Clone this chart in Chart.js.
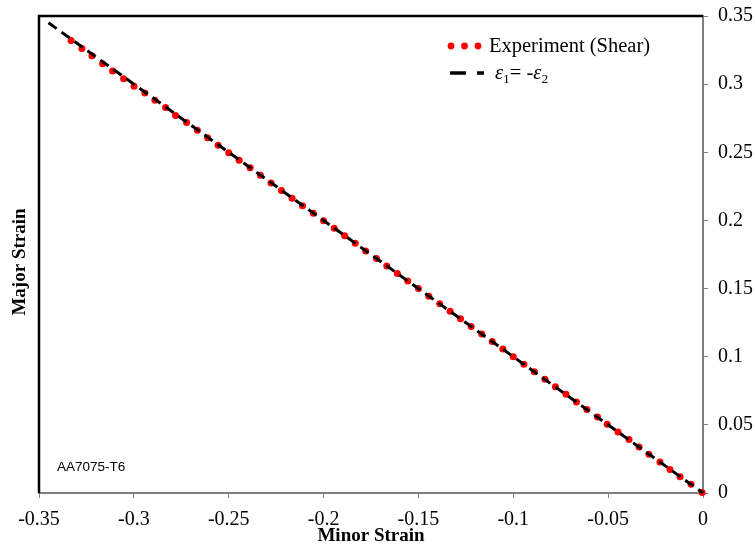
<!DOCTYPE html>
<html>
<head>
<meta charset="utf-8">
<script src="https://cdn.jsdelivr.net/npm/chart.js@4.4.1/dist/chart.umd.min.js"></script>
<style>
  html, body { margin: 0; padding: 0; background: #fff; }
  canvas { display: block; }
</style>
</head>
<body>
<canvas id="strainChart" width="755" height="559"></canvas>
<script>
const minorStrain = [
  -0.3331, -0.3274, -0.3221, -0.3165, -0.3112, -0.3054, -0.2999, -0.2942, -0.2889, -0.2833,
  -0.2780, -0.2722, -0.2665, -0.2611, -0.2556, -0.2500, -0.2445, -0.2387, -0.2333, -0.2277,
  -0.2222, -0.2166, -0.2111, -0.2054, -0.2000, -0.1944, -0.1889, -0.1833, -0.1778, -0.1721,
  -0.1667, -0.1611, -0.1556, -0.1500, -0.1445, -0.1388, -0.1333, -0.1278, -0.1222, -0.1166,
  -0.1111, -0.1055, -0.1000, -0.0944, -0.0889, -0.0833, -0.0778, -0.0722, -0.0667, -0.0612,
  -0.0556, -0.0505, -0.0448, -0.0390, -0.0337, -0.0285, -0.0227, -0.0174, -0.0121, -0.0063, -0.0005
];
const majorStrain = [
  0.3320, 0.3262, 0.3209, 0.3150, 0.3097, 0.3040, 0.2985, 0.2935, 0.2881, 0.2828,
  0.2770, 0.2718, 0.2662, 0.2607, 0.2552, 0.2497, 0.2441, 0.2386, 0.2331, 0.2275,
  0.2220, 0.2163, 0.2108, 0.2053, 0.1998, 0.1943, 0.1887, 0.1832, 0.1776, 0.1720,
  0.1666, 0.1610, 0.1555, 0.1500, 0.1444, 0.1389, 0.1333, 0.1278, 0.1222, 0.1167,
  0.1111, 0.1056, 0.1000, 0.0945, 0.0890, 0.0834, 0.0779, 0.0724, 0.0668, 0.0613,
  0.0557, 0.0504, 0.0447, 0.0392, 0.0338, 0.0284, 0.0228, 0.0173, 0.0120, 0.0065, 0.0004
];
// reference line eps1 = -eps2
const refMinor = [-0.345, 0];
const refMajor = [0.345, 0];

const xTicks = [-0.35, -0.3, -0.25, -0.2, -0.15, -0.1, -0.05, 0];
const yTicks = [0, 0.05, 0.1, 0.15, 0.2, 0.25, 0.3, 0.35];

const serif = '"Liberation Serif", "Times New Roman", serif';
const axisGray = '#7f7f7f';

const fmt = v => String(Math.round(v * 100) / 100);

const extrasPlugin = {
  id: 'extras',
  beforeDatasetsDraw(chart) {
    const { ctx, chartArea: a } = chart;
    ctx.save();
    ctx.strokeStyle = '#000';
    ctx.lineWidth = 2.5;
    ctx.beginPath();
    ctx.moveTo(a.left, a.bottom);
    ctx.lineTo(a.left, a.top);
    ctx.lineTo(a.right, a.top);
    ctx.stroke();
    ctx.restore();
  },
  afterDraw(chart) {
    const { ctx } = chart;
    ctx.save();
    // y title on the left
    ctx.fillStyle = '#000';
    ctx.font = 'bold 19px ' + serif;
    ctx.textAlign = 'center';
    ctx.textBaseline = 'middle';
    ctx.translate(20, 262);
    ctx.rotate(-Math.PI / 2);
    ctx.fillText('Major Strain', 0, 0);
    ctx.restore();

    ctx.save();
    ctx.fillStyle = '#000';
    ctx.font = '13.5px "Liberation Sans", Arial, sans-serif';
    ctx.textBaseline = 'middle';
    ctx.fillText('AA7075-T6', 57, 467);

    // legend
    ctx.fillStyle = '#ff0000';
    [451, 464.5, 478].forEach(x => {
      ctx.beginPath();
      ctx.arc(x, 46, 3.4, 0, Math.PI * 2);
      ctx.fill();
    });
    ctx.fillStyle = '#000';
    ctx.font = '20.5px ' + serif;
    ctx.textBaseline = 'alphabetic';
    ctx.fillText('Experiment (Shear)', 489, 52);

    ctx.strokeStyle = '#000';
    ctx.lineWidth = 3.5;
    ctx.beginPath();
    ctx.moveTo(450, 73); ctx.lineTo(466, 73);
    ctx.moveTo(477, 73); ctx.lineTo(484, 73);
    ctx.stroke();

    const base = 79;
    let x = 495;
    ctx.font = 'italic 20.5px ' + serif;
    ctx.fillText('ε', x, base);
    x += ctx.measureText('ε').width;
    ctx.font = '13.5px ' + serif;
    ctx.fillText('1', x, base + 4);
    x += ctx.measureText('1').width;
    ctx.font = '20.5px ' + serif;
    ctx.fillText('= -', x, base);
    x += ctx.measureText('= -').width;
    ctx.font = 'italic 20.5px ' + serif;
    ctx.fillText('ε', x, base);
    x += ctx.measureText('ε').width;
    ctx.font = '13.5px ' + serif;
    ctx.fillText('2', x, base + 4);
    ctx.restore();
  }
};

new Chart(document.getElementById('strainChart'), {
  type: 'scatter',
  data: {
    datasets: [
      {
        label: 'ε1 = -ε2',
        type: 'line',
        data: refMinor.map((v, i) => ({ x: v, y: refMajor[i] })),
        borderColor: '#000',
        borderWidth: 3,
        borderDash: [10, 6],
        pointRadius: 0,
        fill: false,
        clip: false
      },
      {
        label: 'Experiment (Shear)',
        data: minorStrain.map((v, i) => ({ x: v, y: majorStrain[i] })),
        backgroundColor: '#ff0000',
        borderColor: '#ff0000',
        borderWidth: 0,
        pointRadius: 3.5,
        clip: false
      }
    ]
  },
  options: {
    responsive: false,
    animation: false,
    events: [],
    layout: { padding: { left: 39, top: 16, right: 0, bottom: 0 } },
    plugins: {
      legend: { display: false },
      tooltip: { enabled: false }
    },
    scales: {
      x: {
        type: 'linear',
        position: 'bottom',
        min: -0.35,
        max: 0,
        afterBuildTicks: s => { s.ticks = xTicks.map(v => ({ value: v })); },
        afterFit: s => { s.height = 66; s.paddingLeft = 0; s.paddingRight = 0; },
        ticks: {
          color: '#000',
          font: { family: serif, size: 20 },
          padding: 10,
          maxRotation: 0,
          callback: fmt
        },
        grid: { drawOnChartArea: false, drawTicks: true, tickLength: 5, tickColor: axisGray },
        border: { color: axisGray, width: 2 },
        title: {
          display: true,
          text: 'Minor Strain',
          color: '#000',
          font: { family: serif, size: 19, weight: 'bold' },
          padding: { top: 0, bottom: 12 }
        }
      },
      y: {
        type: 'linear',
        position: 'right',
        min: 0,
        max: 0.35,
        afterBuildTicks: s => { s.ticks = yTicks.map(v => ({ value: v })); },
        afterFit: s => { s.width = 52; s.paddingTop = 0; s.paddingBottom = 0; },
        ticks: {
          color: '#000',
          font: { family: serif, size: 20 },
          padding: 10,
          callback: fmt
        },
        grid: { drawOnChartArea: false, drawTicks: true, tickLength: 5, tickColor: axisGray },
        border: { color: axisGray, width: 2 }
      }
    }
  },
  plugins: [extrasPlugin]
});
</script>
</body>
</html>
